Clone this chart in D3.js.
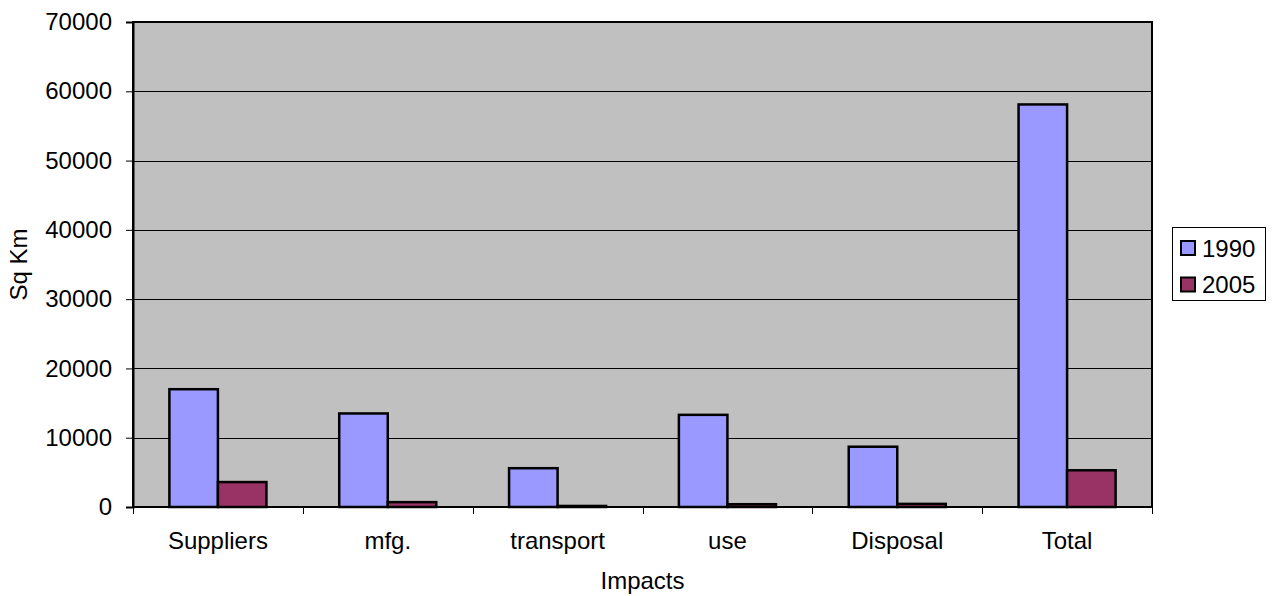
<!DOCTYPE html>
<html>
<head>
<meta charset="utf-8">
<script src="https://cdn.jsdelivr.net/npm/d3@7"></script>
<style>
  html, body { margin: 0; padding: 0; background: #ffffff; }
  svg { display: block; font-family: "Liberation Sans", Arial, sans-serif; }
</style>
</head>
<body>
<svg id="chart" width="1277" height="596"></svg>
<script>
// Land-area impacts by life-cycle stage, in square kilometres
const categories = ["Suppliers", "mfg.", "transport", "use", "Disposal", "Total"];
const seriesNames = ["1990", "2005"];
const values1990 = [17000, 13500, 5600, 13300, 8700, 58100];
const values2005 = [3600, 700, 150, 400, 450, 5300];
const yTicks = [0, 10000, 20000, 30000, 40000, 50000, 60000, 70000];
const seriesColors = ["#9999FF", "#993366"];

const svg = d3.select("#chart");
const plot = { left: 133, right: 1152, top: 22, bottom: 507 };

const x = d3.scaleBand()
  .domain(categories)
  .range([plot.left, plot.right])
  .paddingInner(0)
  .paddingOuter(0);

// two bars per group, gap equal to 150% of a bar width
const barW = x.bandwidth() / 3.5;
const xs = d3.scaleBand()
  .domain(seriesNames)
  .range([barW * 0.75, barW * 2.75]);

const y = d3.scaleLinear().domain([0, 70000]).range([plot.bottom, plot.top]);

// plot background
svg.append("rect")
  .attr("x", plot.left).attr("y", plot.top)
  .attr("width", plot.right - plot.left).attr("height", plot.bottom - plot.top)
  .attr("fill", "#C0C0C0");

// gridlines
svg.append("g").selectAll("line")
  .data(yTicks.filter(d => d > 0 && d < 70000))
  .join("line")
  .attr("x1", plot.left).attr("x2", plot.right)
  .attr("y1", d => Math.round(y(d)) + 0.5).attr("y2", d => Math.round(y(d)) + 0.5)
  .attr("stroke", "#000").attr("stroke-width", 1);

// bars
const table = categories.map((c, i) => ({ cat: c, vals: [values1990[i], values2005[i]] }));
const groups = svg.append("g").selectAll("g")
  .data(table)
  .join("g")
  .attr("transform", d => `translate(${x(d.cat)},0)`);

groups.selectAll("rect")
  .data(d => d.vals.map((v, k) => ({ name: seriesNames[k], v, k })))
  .join("rect")
  .attr("x", d => xs(d.name))
  .attr("width", xs.bandwidth())
  .attr("y", d => y(d.v))
  .attr("height", d => y(0) - y(d.v))
  .attr("fill", d => seriesColors[d.k])
  .attr("stroke", "#000")
  .attr("stroke-width", 2.5);

// plot border
svg.append("rect")
  .attr("x", plot.left).attr("y", plot.top)
  .attr("width", plot.right - plot.left).attr("height", plot.bottom - plot.top)
  .attr("fill", "none").attr("stroke", "#000").attr("stroke-width", 2);

// y axis
const yAxis = d3.axisLeft(y).tickValues(yTicks).tickSize(7).tickPadding(14).tickFormat(d3.format("d"));
const gy = svg.append("g").attr("transform", `translate(${plot.left},0)`).call(yAxis);
gy.select(".domain").attr("stroke-width", 2);
gy.selectAll(".tick line").attr("stroke-width", 1);
gy.selectAll(".tick text").attr("font-size", 24).attr("font-family", "Liberation Sans, Arial, sans-serif").attr("fill", "#000");

// x axis: ticks sit on category boundaries
const gx = svg.append("g").attr("transform", `translate(0,${plot.bottom})`);
gx.append("line")
  .attr("x1", plot.left).attr("x2", plot.right)
  .attr("y1", 0).attr("y2", 0)
  .attr("stroke", "#000").attr("stroke-width", 2);
const boundaries = categories.map(c => x(c)).concat([plot.right]);
gx.selectAll("line.tk")
  .data(boundaries)
  .join("line")
  .attr("class", "tk")
  .attr("x1", d => Math.round(d) + 0.5).attr("x2", d => Math.round(d) + 0.5)
  .attr("y1", 0).attr("y2", 7)
  .attr("stroke", "#000");
gx.selectAll("text")
  .data(categories)
  .join("text")
  .attr("x", d => x(d) + x.bandwidth() / 2)
  .attr("y", 42)
  .attr("text-anchor", "middle")
  .attr("font-size", 24)
  .text(d => d);

// axis titles
svg.append("text")
  .attr("x", (plot.left + plot.right) / 2)
  .attr("y", 589)
  .attr("text-anchor", "middle")
  .attr("font-size", 24)
  .text("Impacts");

svg.append("text")
  .attr("transform", `translate(27,${(plot.top + plot.bottom) / 2}) rotate(-90)`)
  .attr("text-anchor", "middle")
  .attr("font-size", 24)
  .text("Sq Km");

// legend
const legend = svg.append("g");
legend.append("rect")
  .attr("x", 1172.5).attr("y", 227.5)
  .attr("width", 93).attr("height", 73)
  .attr("fill", "#fff").attr("stroke", "#000").attr("stroke-width", 1);
const items = legend.selectAll("g.item")
  .data(seriesNames)
  .join("g")
  .attr("class", "item")
  .attr("transform", (d, i) => `translate(1181,${248 + i * 36.5})`);
items.append("rect")
  .attr("x", 0).attr("y", -7)
  .attr("width", 14).attr("height", 14)
  .attr("fill", (d, i) => seriesColors[i])
  .attr("stroke", "#000").attr("stroke-width", 2);
items.append("text")
  .attr("x", 21).attr("y", 0)
  .attr("dy", "0.36em")
  .attr("font-size", 24)
  .text(d => d);
</script>
</body>
</html>
